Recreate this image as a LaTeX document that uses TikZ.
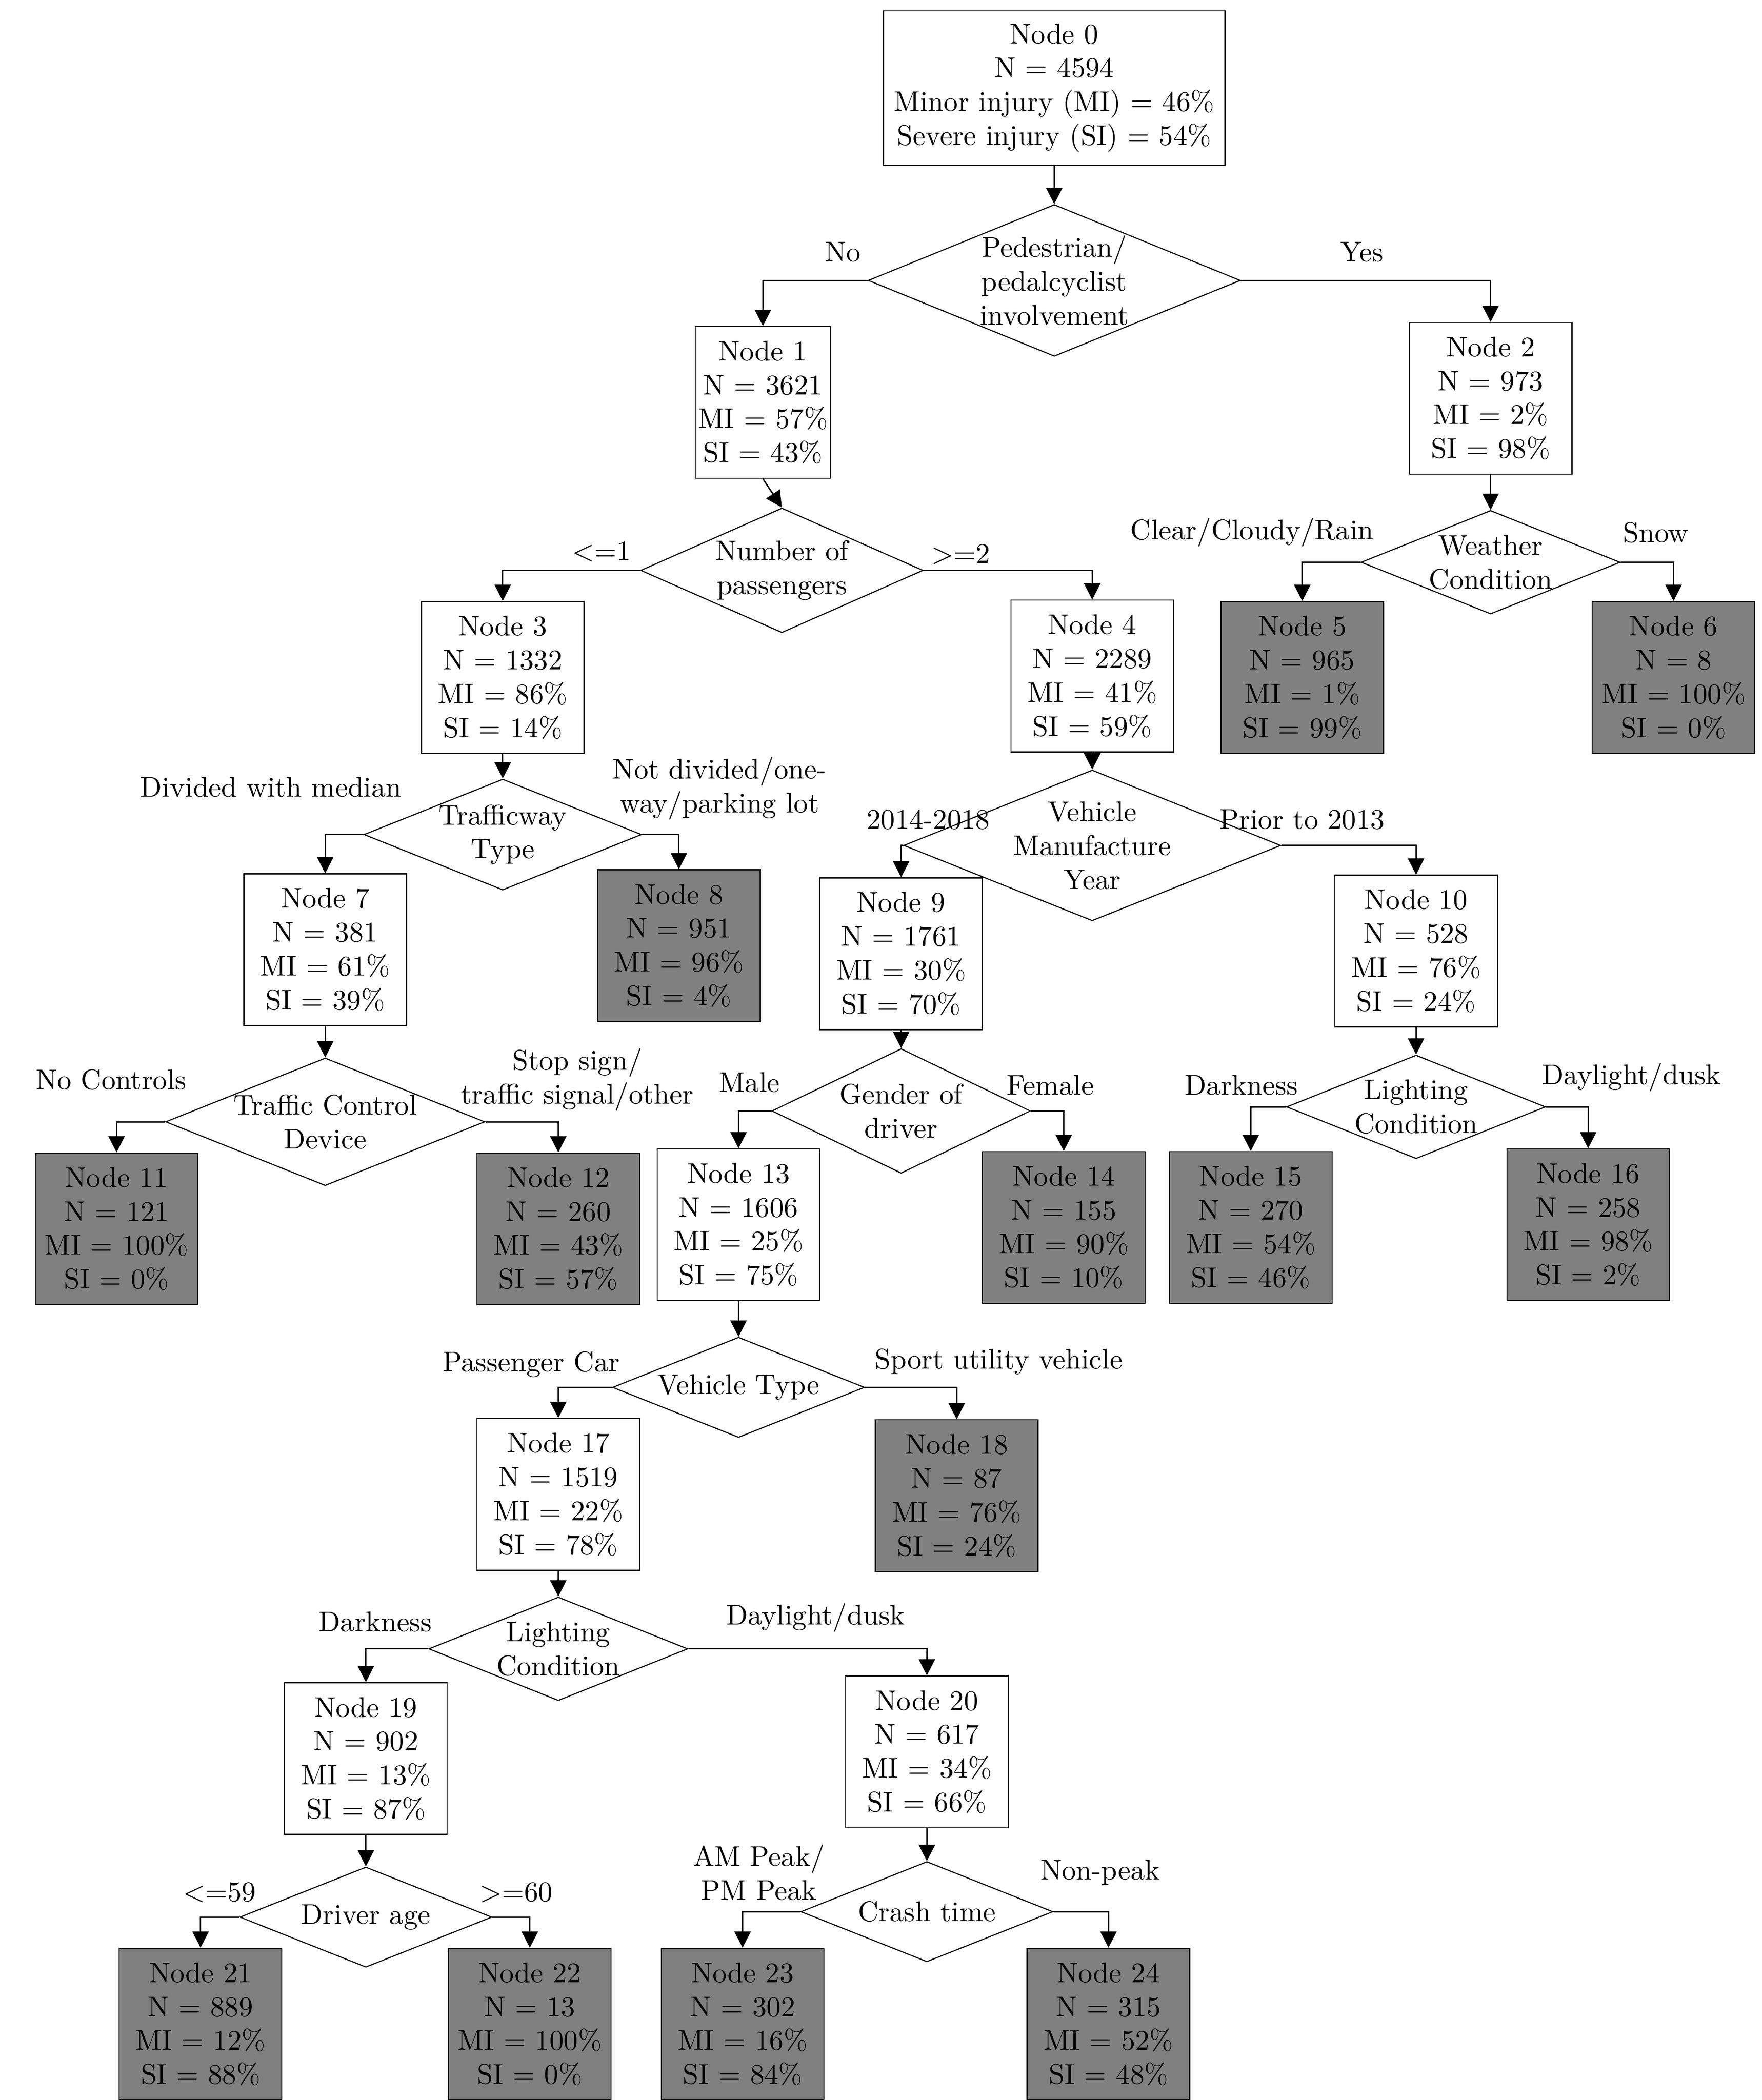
\documentclass[tikz,border=0pt]{standalone}
\usepackage{tikz}
\usetikzlibrary{shapes.geometric}
\usetikzlibrary{arrows.meta}

\tikzset{
  leaf/.style={draw, fill=black!50, minimum width=60pt, minimum height=56pt, inner sep=1pt, align=center, font=\fontsize{10.5}{12.5}\selectfont},
  inner/.style={leaf, fill=white},
  split/.style={draw, diamond, aspect=2.5, inner sep=0pt, align=center, font=\fontsize{10.5}{12.5}\selectfont},
  lab/.style={inner sep=0pt, align=center, font=\fontsize{10.5}{12.5}\selectfont},
  branch/.style={-{Triangle[length=6pt,width=6pt]}, line width=0.5pt}
}

\begin{document}
\begin{tikzpicture}[x=0.5pt,y=-0.5pt]
\useasboundingbox (0,0) rectangle (1300,1550);

%Boxes
\node [inner, minimum width=126pt, minimum height=57pt] (n0) at (778,65) {Node 0\\N = 4594\\Minor injury (MI) = 46\%\\Severe injury (SI) = 54\%};
\node [inner, minimum width=46pt] (n1) at (563,297) {Node 1\\N = 3621\\MI = 57\%\\SI = 43\%};
\node [inner] (n2) at (1100,294) {Node 2\\N = 973\\MI = 2\%\\SI = 98\%};
\node [inner] (n3) at (371,500) {Node 3\\N = 1332\\MI = 86\%\\SI = 14\%};
\node [inner] (n4) at (806,499) {Node 4\\N = 2289\\MI = 41\%\\SI = 59\%};
\node [leaf] (n5) at (961,500) {Node 5\\N = 965\\MI = 1\%\\SI = 99\%};
\node [leaf] (n6) at (1235,500) {Node 6\\N = 8\\MI = 100\%\\SI = 0\%};
\node [inner] (n7) at (240,701) {Node 7\\N = 381\\MI = 61\%\\SI = 39\%};
\node [leaf] (n8) at (501,698) {Node 8\\N = 951\\MI = 96\%\\SI = 4\%};
\node [inner] (n9) at (665,704) {Node 9\\N = 1761\\MI = 30\%\\SI = 70\%};
\node [inner] (n10) at (1045,702) {Node 10\\N = 528\\MI = 76\%\\SI = 24\%};
\node [leaf] (n11) at (86,907) {Node 11\\N = 121\\MI = 100\%\\SI = 0\%};
\node [leaf] (n12) at (412,907) {Node 12\\N = 260\\MI = 43\%\\SI = 57\%};
\node [inner] (n13) at (545,904) {Node 13\\N = 1606\\MI = 25\%\\SI = 75\%};
\node [leaf] (n14) at (785,906) {Node 14\\N = 155\\MI = 90\%\\SI = 10\%};
\node [leaf] (n15) at (923,906) {Node 15\\N = 270\\MI = 54\%\\SI = 46\%};
\node [leaf] (n16) at (1172,904) {Node 16\\N = 258\\MI = 98\%\\SI = 2\%};
\node [inner] (n17) at (412,1103) {Node 17\\N = 1519\\MI = 22\%\\SI = 78\%};
\node [leaf] (n18) at (706,1104) {Node 18\\N = 87\\MI = 76\%\\SI = 24\%};
\node [inner] (n19) at (270,1298) {Node 19\\N = 902\\MI = 13\%\\SI = 87\%};
\node [inner] (n20) at (684,1293) {Node 20\\N = 617\\MI = 34\%\\SI = 66\%};
\node [leaf] (n21) at (148,1494) {Node 21\\N = 889\\MI = 12\%\\SI = 88\%};
\node [leaf] (n22) at (391,1494) {Node 22\\N = 13\\MI = 100\%\\SI = 0\%};
\node [leaf] (n23) at (548,1494) {Node 23\\N = 302\\MI = 16\%\\SI = 84\%};
\node [leaf] (n24) at (818,1494) {Node 24\\N = 315\\MI = 52\%\\SI = 48\%};

%Splits
\node [split, minimum width=126pt, minimum height=56pt] (d0) at (778,207) {Pedestrian/\\pedalcyclist\\involvement};
\node [split, minimum width=93pt, minimum height=46pt] (d1) at (577,421) {Number of\\passengers};
\node [split, minimum width=93pt, minimum height=37pt] (d2) at (1100,415) {Weather\\Condition};
\node [split, minimum width=94pt, minimum height=37pt] (d3) at (371,616) {Trafficway\\Type};
\node [split, minimum width=94pt, minimum height=47pt] (d4) at (806,624) {Vehicle\\Manufacture\\Year};
\node [split, minimum width=112pt, minimum height=47pt] (d7) at (240,828) {Traffic Control\\Device};
\node [split, minimum width=93pt, minimum height=46pt] (d9) at (665,820) {Gender of\\driver};
\node [split, minimum width=93pt, minimum height=37pt] (d10) at (1045,817) {Lighting\\Condition};
\node [split, minimum width=93pt, minimum height=37pt] (d13) at (545,1024) {Vehicle Type};
\node [split, minimum width=93pt, minimum height=37pt] (d17) at (412,1217) {Lighting\\Condition};
\node [split, minimum width=93pt, minimum height=37pt] (d19) at (270,1415) {Driver age};
\node [split, minimum width=93pt, minimum height=37pt] (d20) at (684,1411) {Crash time};

%Connectors
\foreach \p/\d in {n0/d0, n1/d1, n2/d2, n3/d3, n4/d4, n7/d7, n9/d9, n10/d10, n13/d13, n17/d17, n19/d19, n20/d20}
  \draw [branch] (\p.south) -- (\d.north);
\foreach \d/\l/\r in {d0/n1/n2, d1/n3/n4, d2/n5/n6, d3/n7/n8, d4/n9/n10, d7/n11/n12, d9/n13/n14, d10/n15/n16, d13/n17/n18, d17/n19/n20, d19/n21/n22, d20/n23/n24}
{
  \draw [branch] (\d.west) -| (\l.north);
  \draw [branch] (\d.east) -| (\r.north);
}

%Branch labels
\node [lab] (l1) at (622,186) {No};
\node [lab] (l2) at (1005,186) {Yes};
\node [lab] (l3) at (444,407) {<=1};
\node [lab] (l4) at (709,409) {>=2};
\node [lab] (l5) at (924,393) {Clear/Cloudy/Rain};
\node [lab] (l6) at (1222,393) {Snow};
\node [lab] (l7) at (200,581) {Divided with median};
\node [lab] (l8) at (531,582) {Not divided/one-\\way/parking lot};
\node [lab] (l9) at (685,605) {2014-2018};
\node [lab] (l10) at (961,605) {Prior to 2013};
\node [lab] (l11) at (82,797) {No Controls};
\node [lab] (l12) at (426,797) {Stop sign/\\traffic signal/other};
\node [lab] (l13) at (553,799) {Male};
\node [lab] (l14) at (775,801) {Female};
\node [lab] (l15) at (916,801) {Darkness};
\node [lab] (l16) at (1204,795) {Daylight/dusk};
\node [lab] (l17) at (392,1007) {Passenger Car};
\node [lab] (l18) at (737,1005) {Sport utility vehicle};
\node [lab] (l19) at (277,1197) {Darkness};
\node [lab] (l20) at (602,1194) {Daylight/dusk};
\node [lab] (l21) at (162,1397) {<=59};
\node [lab] (l22) at (381,1397) {>=60};
\node [lab] (l23) at (560,1382) {AM Peak/\\PM Peak};
\node [lab] (l24) at (812,1382) {Non-peak};

\end{tikzpicture}
\end{document}
